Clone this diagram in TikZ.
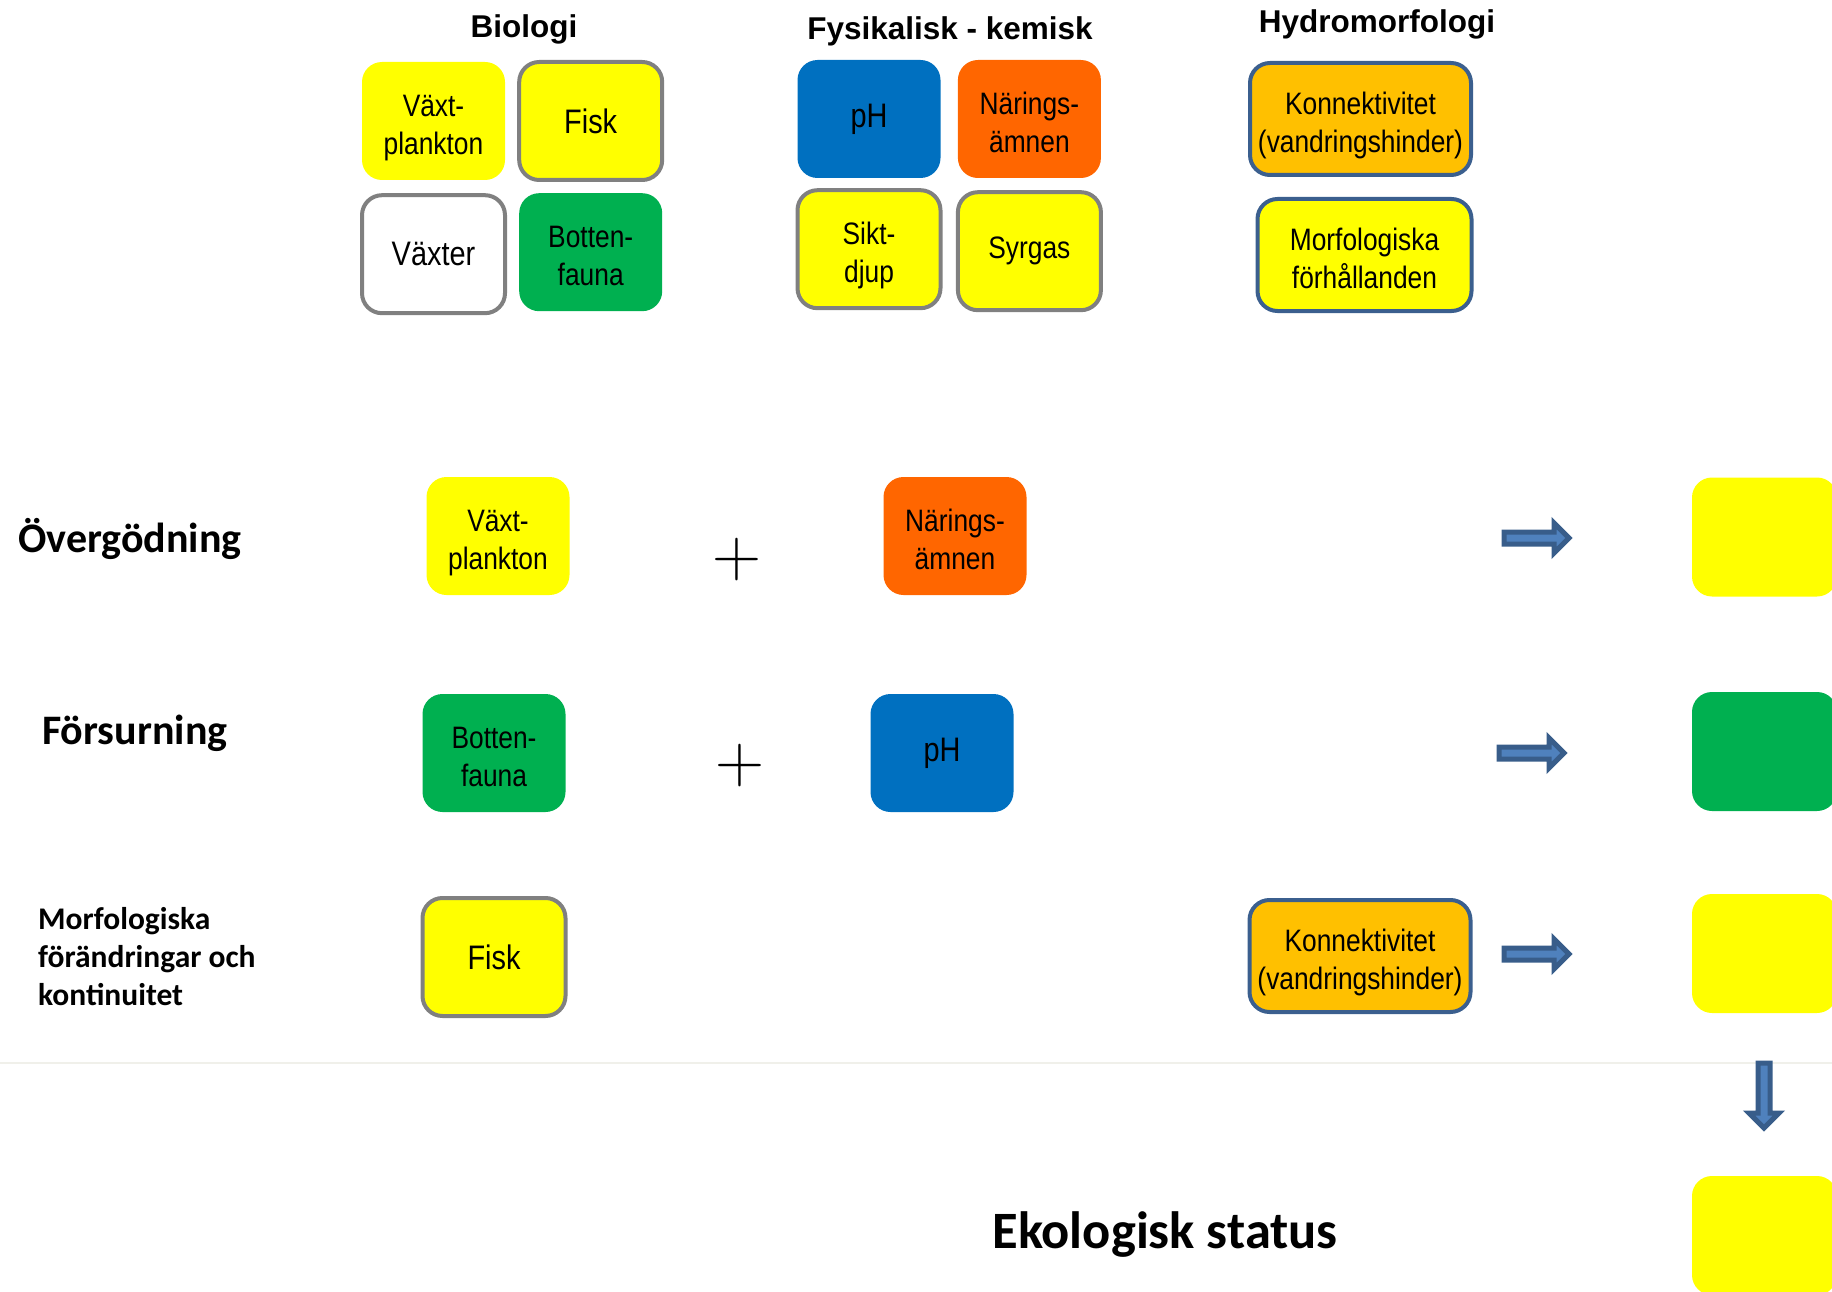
\documentclass[tikz,border=0pt]{standalone}
\usepackage{fontspec}
\usetikzlibrary{positioning}
\newfontfamily\boxfont[FakeStretch=0.85]{Liberation Sans}
\newfontfamily\headfont{Liberation Sans}
\newfontfamily\rowfont{Carlito}
\definecolor{gul}{HTML}{FFFF00}
\definecolor{gron}{HTML}{00B050}
\definecolor{bla}{HTML}{0070C0}
\definecolor{naring}{HTML}{FF6600}
\definecolor{barnsten}{HTML}{FFC000}
\definecolor{gra}{HTML}{808080}
\definecolor{kant}{HTML}{3B5F8E}
\definecolor{pilfyll}{HTML}{4F81BD}
\definecolor{pilkant}{HTML}{385D8A}
\definecolor{linje}{HTML}{F0F0EA}

\begin{document}
\begin{tikzpicture}[x=1pt,y=-1pt]
 \tikzset{box node/.style={rectangle, rounded corners=20pt, inner sep=0pt,
 		minimum width=143pt, minimum height=118pt, text centered, align=center,
 		font={\boxfont\fontsize{31}{38}\selectfont}}, }
 \tikzset{two line/.style={execute at begin node={\rule{0pt}{75pt}},
 		execute at end node={\rule[-8pt]{0pt}{8pt}}}, }
 \tikzset{big text/.style={font={\boxfont\fontsize{34}{38}\selectfont}}, }
 \tikzset{gray node/.style={draw=gra, line width=4pt}, }
 \tikzset{hydro node/.style={box node, two line, draw=kant, line width=4pt,
 		minimum width=221pt, minimum height=112pt}, }
 \tikzset{result node/.style={rectangle, rounded corners=20pt,
 		minimum width=145pt, minimum height=119pt}, }
 \tikzset{head node/.style={inner sep=0pt, anchor=base,
 		font={\headfont\bfseries\fontsize{31.5}{36}\selectfont}}, }
 \tikzset{row node/.style={inner sep=0pt, anchor=west, align=left,
 		font={\rowfont\bfseries\fontsize{42}{50}\selectfont}}, }
 \tikzset{plus node/.style={inner sep=0pt, font={\rmfamily\fontsize{68}{68}\selectfont}}, }
 \tikzset{pil/.style={draw=pilkant, fill=pilfyll, line width=5pt, line join=miter},}
 \tikzset{pics/blockpil/.style={code={
 		\draw[pil] (2,-6) -- (52,-6) -- (52,-15) -- (67,0) -- (52,15) -- (52,6) -- (2,6) -- cycle;}}, }
 \useasboundingbox (0,0) rectangle (1832,1292);
 \clip (0,0) rectangle (1832,1292);
 % rubriker
 \node[head node] (tbio) at (524,38) {Biologi};
 \node[head node] (tfys) at (950,39.5) {Fysikalisk - kemisk};
 \node[head node] (thyd) at (1377,33) {Hydromorfologi};
 % biologi
 \node[box node, two line, fill=gul] (bvaxt) at (433.5,121) {Växt-\\plankton};
 \node[box node, big text, gray node, fill=gul] (bfisk) [right =12pt of bvaxt] {Fisk};
 \node[box node, big text, gray node, fill=white] (bvaxter) [below =13pt of bvaxt] {Växter};
 \node[box node, two line, fill=gron] (bbotten) [below =11pt of bfisk] {Botten-\\fauna};
 % fysikalisk - kemisk
 \node[box node, big text, fill=bla] (fph) at (869,119) {pH};
 \node[box node, two line, fill=naring] (fnar) [right =17pt of fph] {Närings-\\ämnen};
 \node[box node, two line, gray node, fill=gul] (fsikt) [below =10pt of fph] {Sikt-\\djup};
 \node[box node, gray node, fill=gul] (fsyr) [below =12pt of fnar] {Syrgas};
 % hydromorfologi
 \node[hydro node, fill=barnsten] (hkonn) at (1360.5,119) {Konnektivitet\\(vandringshinder)};
 \node[hydro node, fill=gul, minimum width=214pt] (hmorf) [below =20pt of hkonn, xshift=4pt] {Morfologiska\\förhållanden};
 % påverkan
 \node[row node] (over) at (18,539) {Övergödning};
 \node[row node] (fors) at (42,733) {Försurning};
 \node[row node, font={\rowfont\bfseries\fontsize{31.5}{38}\selectfont}] (morf) at (38,957)
 	{Morfologiska\\förändringar och\\kontinuitet};
 \node[box node, two line, fill=gul] (ovaxt) at (498,536) {Växt-\\plankton};
 \node[plus node] (plus1) at (737,560) {+};
 \node[box node, two line, fill=naring] (onar) at (955,536) {Närings-\\ämnen};
 \node[box node, two line, fill=gron] (fbotten) at (494,753) {Botten-\\fauna};
 \node[plus node] (plus2) at (740,766) {+};
 \node[box node, big text, fill=bla] (fph2) at (942,753) {pH};
 \node[box node, big text, gray node, fill=gul] (mfisk) at (494,957) {Fisk};
 \node[hydro node, fill=barnsten] (mkonn) at (1360,956) {Konnektivitet\\(vandringshinder)};
 % resultat
 \node[result node, fill=gul] (res1) at (1764.5,537) {};
 \node[result node, fill=gron] (res2) at (1764.5,751.5) {};
 \node[result node, fill=gul] (res3) at (1764.5,953.5) {};
 \node[result node, fill=gul] (res4) at (1764.5,1235.5) {};
 \coordinate (lv) at (0,1063);
 \coordinate (lh) at (1832,1063);
 \draw[linje, line width=2pt] (lv) -- (lh);
 \pic at (1502,538) {blockpil};
 \pic at (1497,753) {blockpil};
 \pic at (1502,954) {blockpil};
 \pic[rotate=-90] at (1764,1061) {blockpil};
 \node[row node, anchor=center, font={\rowfont\bfseries\fontsize{52.5}{60}\selectfont}] (eko) at (1165,1235) {Ekologisk status};
 % 
\end{tikzpicture}
\end{document}
